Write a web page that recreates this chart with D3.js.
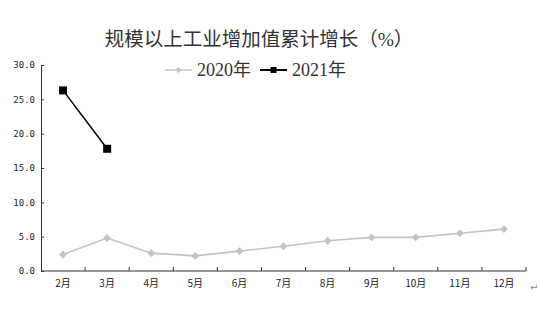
<!DOCTYPE html>
<html>
<head>
<meta charset="utf-8">
<script src="https://cdn.jsdelivr.net/npm/d3@7"></script>
<style>
  body { margin: 0; background: #fff; }
</style>
</head>
<body>
<div id="chart"></div>
<script>
// 规模以上工业增加值累计增长
const months = ["2月", "3月", "4月", "5月", "6月", "7月", "8月", "9月", "10月", "11月", "12月"];
const values2020 = [2.4, 4.8, 2.6, 2.2, 2.9, 3.6, 4.4, 4.9, 4.9, 5.5, 6.1];
const values2021 = [26.3, 17.8];
const yTicks = [0, 5, 10, 15, 20, 25, 30];
const seriesNames = ["2020年", "2021年"];

const width = 540, height = 312;
const margin = { top: 65, right: 14, bottom: 41, left: 41 };
const grey = "#c3c3c3";
const serif = "'Liberation Serif', 'Noto Sans CJK SC', serif";

const svg = d3.select("#chart")
    .append("svg")
    .attr("width", width)
    .attr("height", height);

const x = d3.scaleBand()
    .domain(months)
    .range([margin.left, width - margin.right]);

const y = d3.scaleLinear()
    .domain([0, 30])
    .range([height - margin.bottom, margin.top]);

// title
svg.append("text")
    .attr("x", 259)
    .attr("y", 46)
    .attr("text-anchor", "middle")
    .attr("font-size", "19.5px")
    .attr("font-family", serif)
    .attr("fill", "#333")
    .text("规模以上工业增加值累计增长（%）");

// y axis
const yAxis = svg.append("g")
    .attr("transform", `translate(${margin.left},0)`)
    .call(d3.axisLeft(y).tickValues(yTicks).tickSize(-3).tickPadding(6).tickFormat(d3.format(".1f")));
yAxis.select(".domain").attr("stroke", "#333");
yAxis.selectAll(".tick line").attr("stroke", "#333");
yAxis.selectAll("text")
    .attr("font-size", "9px")
    .attr("font-family", "'DejaVu Sans Mono', monospace")
    .attr("fill", "#222");

// x axis with ticks on band edges
const xAxisG = svg.append("g")
    .attr("transform", `translate(0,${height - margin.bottom})`);
xAxisG.append("line")
    .attr("x1", margin.left).attr("x2", width - margin.right)
    .attr("stroke", "#333");
xAxisG.selectAll(".edge")
    .data(months)
    .enter()
    .append("line")
    .attr("x1", d => x(d) + x.bandwidth())
    .attr("x2", d => x(d) + x.bandwidth())
    .attr("y1", 0).attr("y2", -4)
    .attr("stroke", "#333");
xAxisG.selectAll(".lbl")
    .data(months)
    .enter()
    .append("text")
    .attr("x", d => x(d) + x.bandwidth() / 2)
    .attr("y", 16)
    .attr("text-anchor", "middle")
    .attr("font-size", "10px")
    .attr("font-family", "'Noto Sans CJK SC', sans-serif")
    .attr("fill", "#222")
    .text(d => d);

const cx = (d, i) => x(months[i]) + x.bandwidth() / 2;

const line = d3.line()
    .x((d, i) => cx(d, i))
    .y(d => y(d));

// 2020 series
svg.append("path")
    .datum(values2020)
    .attr("d", line)
    .attr("fill", "none")
    .attr("stroke", grey)
    .attr("stroke-width", 1.6);

const diamond = d3.symbol().type(d3.symbolDiamond2).size(40);
svg.selectAll(".d2020")
    .data(values2020)
    .enter()
    .append("path")
    .attr("d", diamond)
    .attr("transform", (d, i) => `translate(${cx(d, i)},${y(d)})`)
    .attr("fill", grey);

// 2021 series
svg.append("path")
    .datum(values2021)
    .attr("d", line)
    .attr("fill", "none")
    .attr("stroke", "#000")
    .attr("stroke-width", 1.5);

svg.selectAll(".d2021")
    .data(values2021)
    .enter()
    .append("rect")
    .attr("x", (d, i) => cx(d, i) - 4)
    .attr("y", d => y(d) - 4)
    .attr("width", 8)
    .attr("height", 8)
    .attr("fill", "#000");

// legend
const legend = svg.append("g").attr("transform", "translate(165,70)");
const legendItems = [
    { name: seriesNames[0], color: grey, x: 0, marker: "diamond" },
    { name: seriesNames[1], color: "#000", x: 95, marker: "square" }
];
legendItems.forEach(item => {
    const g = legend.append("g").attr("transform", `translate(${item.x},0)`);
    g.append("line")
        .attr("x1", 0).attr("x2", 27)
        .attr("stroke", item.color)
        .attr("stroke-width", item.marker === "square" ? 2 : 1.5);
    if (item.marker === "diamond") {
        g.append("path")
            .attr("d", d3.symbol().type(d3.symbolDiamond2).size(22))
            .attr("transform", "translate(13.5,0)")
            .attr("fill", item.color);
    } else {
        g.append("rect")
            .attr("x", 10.5).attr("y", -3)
            .attr("width", 6).attr("height", 6)
            .attr("fill", item.color);
    }
    g.append("text")
        .attr("x", 32)
        .attr("y", 6)
        .attr("font-size", "18px")
        .attr("font-family", serif)
        .attr("fill", "#333")
        .text(item.name);
});

// paragraph mark
svg.append("text")
    .attr("x", 530)
    .attr("y", 291)
    .attr("font-size", "10px")
    .attr("font-family", "'DejaVu Sans', sans-serif")
    .attr("fill", "#888")
    .text("↵");
</script>
</body>
</html>
